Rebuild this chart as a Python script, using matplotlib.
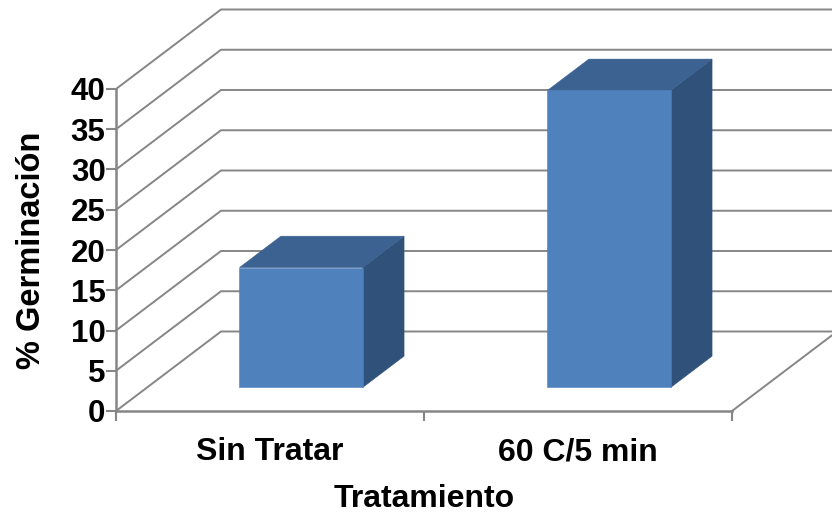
import matplotlib
matplotlib.use("Agg")
import matplotlib.pyplot as plt
from matplotlib.patches import Polygon

plt.rcParams["font.family"] = ["Liberation Sans", "DejaVu Sans"]

categorias = ["Sin Tratar", "60 C/5 min"]
germinacion = [14.9, 36.9]
y_ticks = [0, 5, 10, 15, 20, 25, 30, 35, 40]

GREY = "#868686"
FRONT = "#4F81BD"
TOP = "#3C6291"
SIDE = "#30527A"

# oblique depth of the 3D box, in data units
DEPTH_X = 105 / 308
DEPTH_Y = 79.5 / 8.05
BAR_W = 0.40
BAR_F0 = 0.296   # front of the bar, fraction of the floor depth
BAR_F1 = 0.69    # back of the bar


def proj(x, y, f):
    return (x + DEPTH_X * f, y + DEPTH_Y * f)


fig = plt.figure(figsize=(8.32, 5.13), dpi=100)
ax = fig.add_axes([116 / 832, (513 - 411) / 513, 616 / 832, 322 / 513])
ax.set_xlim(0, len(categorias))
ax.set_ylim(0, 40)

# walls: side lines then back wall lines
for v in y_ticks:
    x0, y0 = proj(0, v, 0)
    x1, y1 = proj(0, v, 1)
    x2, y2 = proj(len(categorias), v, 1)
    ax.plot([x0, x1, x2], [y0, y1, y2], color=GREY, lw=1.4, clip_on=False, zorder=1,
            solid_joinstyle="miter")

# floor right edge
x0, y0 = proj(len(categorias), 0, 0)
x1, y1 = proj(len(categorias), 0, 1)
ax.plot([x0, x1], [y0, y1], color=GREY, lw=1.4, clip_on=False, zorder=1)

# bars
for i, val in enumerate(germinacion):
    left = i + 0.5 - BAR_W / 2
    right = i + 0.5 + BAR_W / 2
    front = [proj(left, 0, BAR_F0), proj(right, 0, BAR_F0),
             proj(right, val, BAR_F0), proj(left, val, BAR_F0)]
    top = [proj(left, val, BAR_F0), proj(right, val, BAR_F0),
           proj(right, val, BAR_F1), proj(left, val, BAR_F1)]
    side = [proj(right, 0, BAR_F0), proj(right, 0, BAR_F1),
            proj(right, val, BAR_F1), proj(right, val, BAR_F0)]
    for pts, col in ((side, SIDE), (top, TOP), (front, FRONT)):
        ax.add_patch(Polygon(pts, closed=True, facecolor=col, edgecolor=col,
                             lw=0.4, clip_on=False, zorder=3))

for s in ("top", "right"):
    ax.spines[s].set_visible(False)
for s in ("left", "bottom"):
    ax.spines[s].set_color(GREY)
    ax.spines[s].set_linewidth(1.8)
    ax.spines[s].set_zorder(2)

ax.set_yticks(y_ticks)
ax.set_xticks(range(len(categorias) + 1))
ax.set_xticklabels([])
ax.set_xticks([i + 0.5 for i in range(len(categorias))], minor=True)
ax.set_xticklabels(categorias, minor=True, fontsize=23, fontweight="bold")
ax.tick_params(axis="x", which="minor", length=0, pad=19)
ax.tick_params(axis="x", which="major", length=7, width=1.5, color=GREY)
ax.tick_params(axis="y", length=7, width=1.5, color=GREY, pad=0.5,
               labelsize=22.5)
for lab in ax.get_yticklabels():
    lab.set_fontweight("bold")

ax.set_xlabel("Tratamiento", fontsize=23, fontweight="bold", labelpad=12)
ax.set_ylabel("% Germinación", fontsize=23.5, fontweight="bold", labelpad=17)

plt.savefig("out.png", dpi=100)
plt.close()
